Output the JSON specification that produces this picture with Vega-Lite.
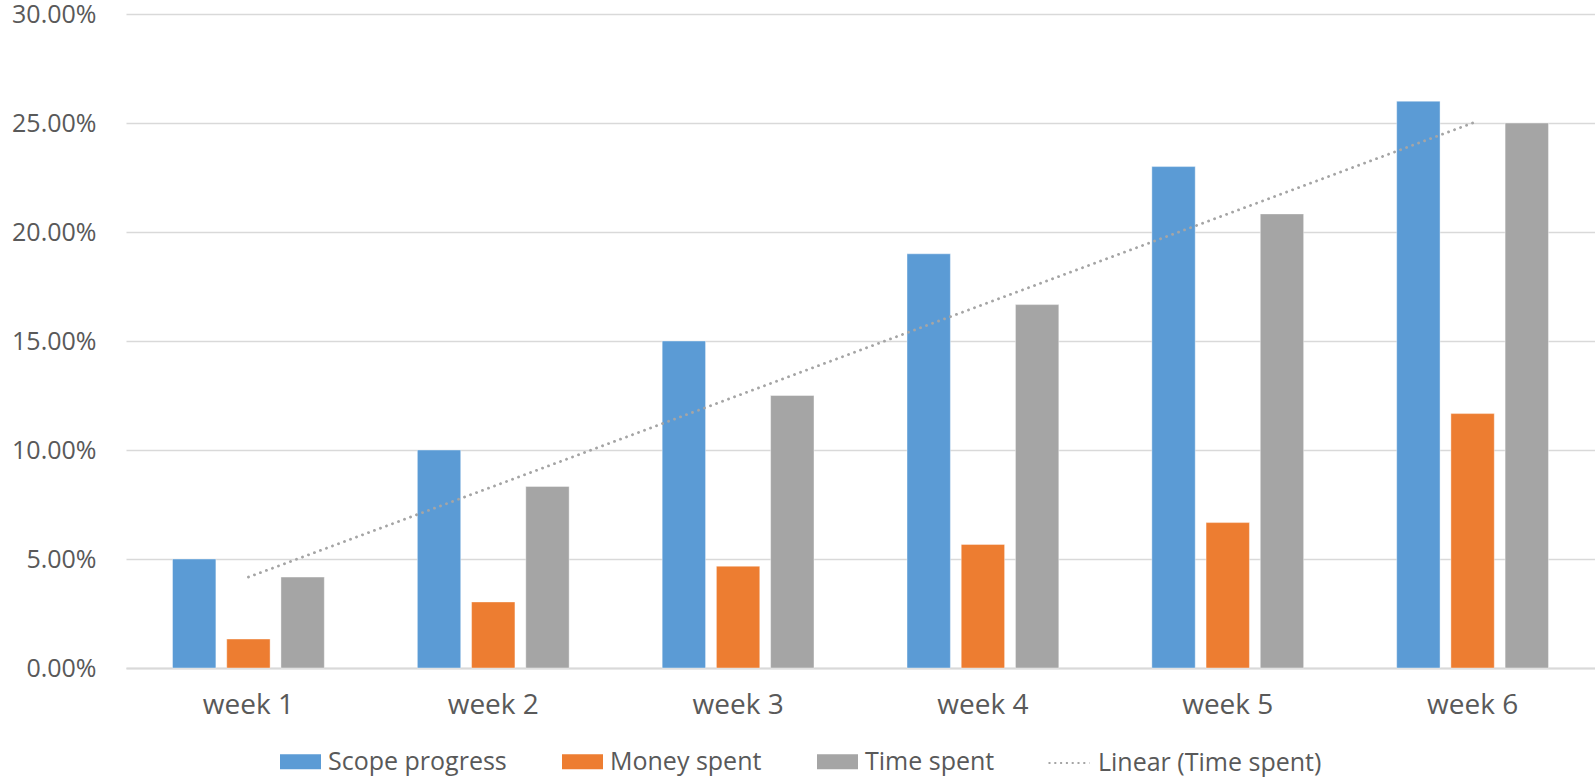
{
  "$schema": "https://vega.github.io/schema/vega-lite/v6.json",
  "autosize": "none",
  "width": 1469,
  "height": 654,
  "padding": {"left": 126, "top": 14, "right": 0, "bottom": 114},
  "background": "white",
  "data": {
    "values": [
      {"week": "week 1", "series": "Scope progress", "value": 0.05},
      {"week": "week 1", "series": "Money spent", "value": 0.0133},
      {"week": "week 1", "series": "Time spent", "value": 0.0417},
      {"week": "week 1", "series": "Linear (Time spent)", "value": 0.0417},
      {"week": "week 2", "series": "Scope progress", "value": 0.10},
      {"week": "week 2", "series": "Money spent", "value": 0.0303},
      {"week": "week 2", "series": "Time spent", "value": 0.0833},
      {"week": "week 2", "series": "Linear (Time spent)", "value": 0.0833},
      {"week": "week 3", "series": "Scope progress", "value": 0.15},
      {"week": "week 3", "series": "Money spent", "value": 0.0467},
      {"week": "week 3", "series": "Time spent", "value": 0.125},
      {"week": "week 3", "series": "Linear (Time spent)", "value": 0.125},
      {"week": "week 4", "series": "Scope progress", "value": 0.19},
      {"week": "week 4", "series": "Money spent", "value": 0.0567},
      {"week": "week 4", "series": "Time spent", "value": 0.1667},
      {"week": "week 4", "series": "Linear (Time spent)", "value": 0.1667},
      {"week": "week 5", "series": "Scope progress", "value": 0.23},
      {"week": "week 5", "series": "Money spent", "value": 0.0667},
      {"week": "week 5", "series": "Time spent", "value": 0.2083},
      {"week": "week 5", "series": "Linear (Time spent)", "value": 0.2083},
      {"week": "week 6", "series": "Scope progress", "value": 0.26},
      {"week": "week 6", "series": "Money spent", "value": 0.1167},
      {"week": "week 6", "series": "Time spent", "value": 0.25},
      {"week": "week 6", "series": "Linear (Time spent)", "value": 0.25}
    ]
  },
  "encoding": {
    "x": {
      "field": "week",
      "type": "nominal",
      "sort": null,
      "scale": {"paddingInner": 0.38, "paddingOuter": 0.19},
      "axis": {
        "title": null,
        "labelAngle": 0,
        "labelFont": "Open Sans",
        "labelFontSize": 28,
        "labelColor": "#595959",
        "labelPadding": 23,
        "ticks": false,
        "domainColor": "#d9d9d9",
        "domainWidth": 2,
        "grid": false
      }
    },
    "y": {
      "field": "value",
      "type": "quantitative",
      "scale": {"domain": [0, 0.3], "nice": false},
      "axis": {
        "title": null,
        "values": [0, 0.05, 0.1, 0.15, 0.2, 0.25, 0.3],
        "format": ".2%",
        "labelFont": "Open Sans",
        "labelFontSize": 25,
        "labelColor": "#595959",
        "labelPadding": 30,
        "ticks": false,
        "domain": false,
        "gridColor": "#d9d9d9",
        "gridWidth": 1.5
      }
    }
  },
  "layer": [
    {
      "transform": [{"filter": "datum.series !== 'Linear (Time spent)'"}],
      "mark": {"type": "bar", "stroke": "white", "strokeOpacity": 0.4, "strokeWidth": 1},
      "encoding": {
        "xOffset": {
          "field": "series",
          "type": "nominal",
          "sort": ["Scope progress", "Money spent", "Time spent"],
          "scale": {"paddingInner": 0.2, "paddingOuter": 0}
        },
        "color": {
          "field": "series",
          "type": "nominal",
          "scale": {
            "domain": ["Scope progress", "Money spent", "Time spent"],
            "range": ["#5b9bd5", "#ed7d31", "#a5a5a5"]
          },
          "legend": {
            "title": null,
            "orient": "none",
            "direction": "horizontal",
            "legendX": 154,
            "legendY": 727,
            "labelFont": "Open Sans",
            "labelFontSize": 25,
            "labelLimit": 0,
            "labelColor": "#595959",
            "labelOffset": 7,
            "columnPadding": 55,
            "symbolSize": 1681,
            "symbolType": "M-1,-0.366H1V0.366H-1Z",
            "symbolStrokeWidth": 0,
            "symbolOpacity": 1
          }
        }
      }
    },
    {
      "transform": [{"filter": "datum.series === 'Linear (Time spent)'"}],
      "mark": {
        "type": "line",
        "strokeWidth": 2.8,
        "strokeDash": [0.1, 6.3],
        "strokeCap": "round"
      },
      "encoding": {
        "color": {
          "field": "series",
          "type": "nominal",
          "scale": {"domain": ["Linear (Time spent)"], "range": ["#a5a5a5"]},
          "legend": {
            "title": null,
            "orient": "none",
            "direction": "horizontal",
            "legendX": 921,
            "legendY": 727,
            "labelFont": "Open Sans",
            "labelFontSize": 25,
            "labelLimit": 0,
            "labelColor": "#595959",
            "labelOffset": 7,
            "symbolSize": 1681,
            "symbolType": "stroke",
            "symbolDash": [2, 3.8],
            "symbolStrokeWidth": 2.2,
            "symbolOpacity": 1
          }
        }
      }
    }
  ],
  "resolve": {"scale": {"color": "independent"}, "legend": {"color": "independent"}},
  "config": {
    "view": {"stroke": null},
    "font": "Open Sans"
  }
}
